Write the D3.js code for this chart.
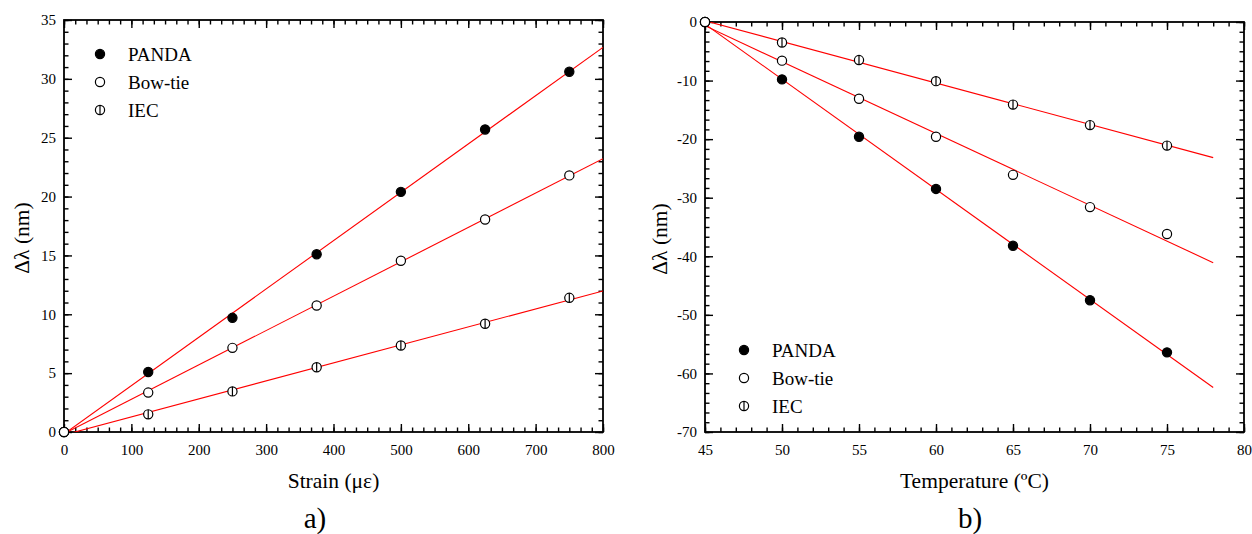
<!DOCTYPE html>
<html>
<head>
<meta charset="utf-8">
<script src="https://cdn.jsdelivr.net/npm/d3@7"></script>
</head>
<body style="margin:0; background:#fff">
<svg id="chart" width="1252" height="534"></svg>
<script>
// series names, shared by both panels
var seriesNames = ["PANDA", "Bow-tie", "IEC"];

// panel a) strain
var strainX      = [0, 125, 250, 375, 500, 625, 750];
var strainPanda  = [0, 5.1, 9.7, 15.1, 20.4, 25.7, 30.6];
var strainBowtie = [0, 3.35, 7.15, 10.75, 14.55, 18.05, 21.8];
var strainIec    = [0, 1.5, 3.45, 5.5, 7.35, 9.2, 11.4];
var strainTicks  = [0, 100, 200, 300, 400, 500, 600, 700, 800];
var strainYTicks = [0, 5, 10, 15, 20, 25, 30, 35];
var strainFitRange = [0, 800];

// panel b) temperature
var tempX      = [45, 50, 55, 60, 65, 70, 75];
var tempPanda  = [0, -9.8, -19.6, -28.5, -38.2, -47.5, -56.4];
var tempBowtie = [0, -6.6, -13.1, -19.6, -26.1, -31.6, -36.2];
var tempIec    = [0, -3.5, -6.5, -10.1, -14.1, -17.6, -21.1];
var tempTicks  = [45, 50, 55, 60, 65, 70, 75, 80];
var tempYTicks = [-70, -60, -50, -40, -30, -20, -10, 0];
var tempFitRange = [45, 78];

var FONT = "'Liberation Serif'";
var svg = d3.select("#chart");

// least squares line through the points
function fit(xs, ys) {
  var mx = d3.mean(xs), my = d3.mean(ys);
  var sxy = d3.sum(xs, function(x, i) { return (x - mx) * (ys[i] - my); });
  var sxx = d3.sum(xs, function(x) { return (x - mx) * (x - mx); });
  var b = sxy / sxx;
  return { a: my - b * mx, b: b };
}

function drawMarker(g, kind, cx, cy) {
  var r = 4.6;
  g.append("circle")
    .attr("cx", cx).attr("cy", cy).attr("r", r)
    .attr("fill", kind === 0 ? "#000" : "#fff")
    .attr("stroke", "#000").attr("stroke-width", 1.2);
  if (kind === 2) {
    g.append("line")
      .attr("x1", cx).attr("x2", cx)
      .attr("y1", cy - r).attr("y2", cy + r)
      .attr("stroke", "#000").attr("stroke-width", 1.2);
  }
}

function plain(d) { return String(d); } // keep hyphen minus like the original

function drawPanel(cfg) {
  var x = d3.scaleLinear().domain(cfg.xDomain).range([cfg.left, cfg.right]);
  var y = d3.scaleLinear().domain(cfg.yDomain).range([cfg.bottom, cfg.top]);
  var g = svg.append("g");

  var clipId = "clip" + cfg.id;
  svg.append("clipPath").attr("id", clipId).append("rect")
    .attr("x", cfg.left).attr("y", cfg.top)
    .attr("width", cfg.right - cfg.left).attr("height", cfg.bottom - cfg.top);

  // minor ticks on all four sides
  var minorX = d3.range(cfg.xDomain[0], cfg.xDomain[1] + 1e-9, cfg.xMinor);
  var minorY = d3.range(cfg.yDomain[0], cfg.yDomain[1] + 1e-9, cfg.yMinor);
  [[d3.axisBottom(x), cfg.bottom, 0, minorX], [d3.axisTop(x), cfg.top, 0, minorX],
   [d3.axisLeft(y), 0, cfg.left, minorY], [d3.axisRight(y), 0, cfg.right, minorY]]
    .forEach(function(a) {
      g.append("g").attr("transform", "translate(" + a[2] + "," + a[1] + ")")
        .call(a[0].tickValues(a[3]).tickSize(-4.5).tickSizeOuter(0).tickFormat(""))
        .call(function(s) { s.select(".domain").remove(); });
    });

  // major ticks
  var ax = [
    [d3.axisBottom(x).tickValues(cfg.xTicks).tickFormat(plain).tickPadding(12), cfg.bottom, 0],
    [d3.axisTop(x).tickValues(cfg.xTicks).tickFormat(""), cfg.top, 0],
    [d3.axisLeft(y).tickValues(cfg.yTicks).tickFormat(plain).tickPadding(8), 0, cfg.left],
    [d3.axisRight(y).tickValues(cfg.yTicks).tickFormat(""), 0, cfg.right]
  ];
  ax.forEach(function(a) {
    g.append("g").attr("class", "ax")
      .attr("transform", "translate(" + a[2] + "," + a[1] + ")")
      .call(a[0].tickSize(-8).tickSizeOuter(0))
      .call(function(s) { s.select(".domain").remove(); });
  });
  g.selectAll("g").attr("font-family", null);
  g.selectAll("line").attr("stroke", "#000").attr("stroke-width", 1.4);
  g.selectAll(".ax text").attr("font-size", 15).attr("fill", "#000");

  g.append("rect")
    .attr("x", cfg.left).attr("y", cfg.top)
    .attr("width", cfg.right - cfg.left).attr("height", cfg.bottom - cfg.top)
    .attr("fill", "none").attr("stroke", "#000").attr("stroke-width", 1.8);

  // fit lines
  var lines = g.append("g").attr("clip-path", "url(#" + clipId + ")");
  cfg.series.forEach(function(ys) {
    var f = fit(cfg.xs, ys);
    lines.append("line")
      .attr("x1", x(cfg.fitRange[0])).attr("y1", y(f.a + f.b * cfg.fitRange[0]))
      .attr("x2", x(cfg.fitRange[1])).attr("y2", y(f.a + f.b * cfg.fitRange[1]))
      .attr("stroke", "#ff0000").attr("stroke-width", 1.1);
  });

  // points: IEC first, then PANDA, Bow-tie on top
  var pts = g.append("g");
  [2, 0, 1].forEach(function(k) {
    cfg.series[k].forEach(function(v, i) {
      drawMarker(pts, k, x(cfg.xs[i]), y(v));
    });
  });

  // legend
  var leg = g.append("g");
  seriesNames.forEach(function(name, k) {
    var ly = cfg.legendY + k * 28;
    drawMarker(leg, k, cfg.legendX, ly);
    leg.append("text").attr("x", cfg.legendX + 28).attr("y", ly)
      .attr("dy", "0.35em").attr("font-size", 19).text(name);
  });

  // titles
  g.append("text")
    .attr("transform", "translate(" + cfg.yTitleX + "," + ((cfg.top + cfg.bottom) / 2 + 12) + ") rotate(-90)")
    .attr("text-anchor", "middle").attr("font-size", 21.5).text("Δλ (nm)");
  g.append("text").attr("x", (cfg.left + cfg.right) / 2).attr("y", 488)
    .attr("text-anchor", "middle").attr("font-size", 21.5).text(cfg.xTitle);
  g.append("text").attr("x", cfg.tagX).attr("y", 528)
    .attr("text-anchor", "middle").attr("font-size", 29).text(cfg.tag);
}

drawPanel({
  id: "a", left: 64, right: 603, top: 20, bottom: 432,
  xDomain: [0, 800], yDomain: [0, 35], xMinor: 100 / 6, yMinor: 1,
  xTicks: strainTicks, yTicks: strainYTicks,
  xs: strainX, series: [strainPanda, strainBowtie, strainIec],
  fitRange: strainFitRange,
  legendX: 100, legendY: 54, yTitleX: 29,
  xTitle: "Strain (με)", tag: "a)", tagX: 315
});

drawPanel({
  id: "b", left: 705, right: 1244, top: 22, bottom: 432,
  xDomain: [45, 80], yDomain: [-70, 0], xMinor: 1, yMinor: 10 / 6,
  xTicks: tempTicks, yTicks: tempYTicks,
  xs: tempX, series: [tempPanda, tempBowtie, tempIec],
  fitRange: tempFitRange,
  legendX: 744, legendY: 350, yTitleX: 667,
  xTitle: "Temperature (ºC)", tag: "b)", tagX: 970
});

// serif everywhere, set inline on each text
svg.selectAll("text").style("font-family", FONT).attr("fill", "#000");
</script>
</body>
</html>
